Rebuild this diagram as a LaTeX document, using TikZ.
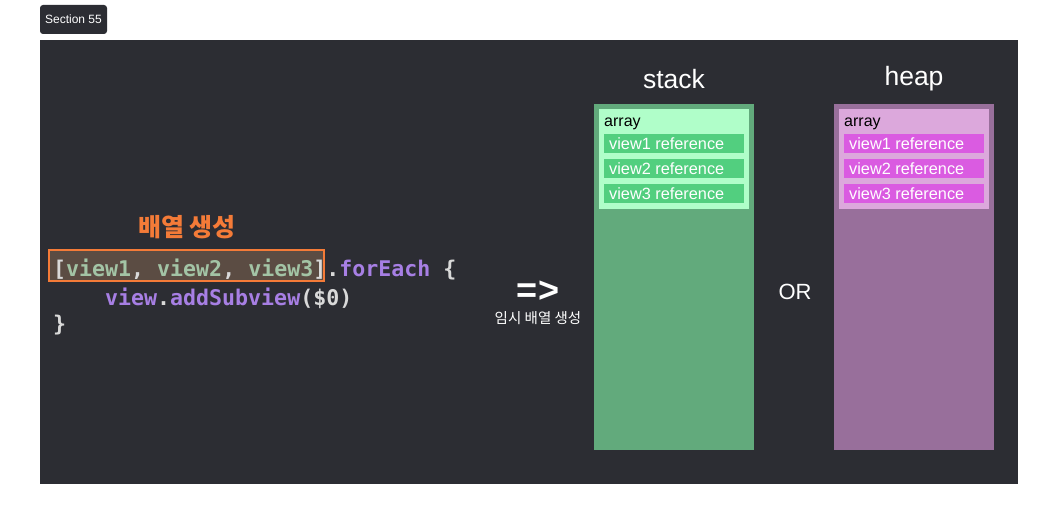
\documentclass[tikz,border=0pt]{standalone}
\usepackage{fontspec}
\setmainfont{Liberation Sans}
\newfontfamily\kr{Noto Sans CJK KR}
\newfontfamily\codefont{DejaVu Sans Mono}
\definecolor{bgdark}{HTML}{2C2D33}
\definecolor{codegray}{HTML}{D9D9D9}
\definecolor{codegreen}{HTML}{A3C4A5}
\definecolor{codepurple}{HTML}{A77FE4}
\definecolor{hlorange}{HTML}{F47B38}
\definecolor{hlfill}{HTML}{5B4C43}
\definecolor{stackcol}{HTML}{62AA7C}
\definecolor{stackin}{HTML}{B0FEC9}
\definecolor{stackrow}{HTML}{52CF7F}
\definecolor{heapcol}{HTML}{986F9B}
\definecolor{heapin}{HTML}{DCA8DC}
\definecolor{heaprow}{HTML}{DA5BE1}
\tikzset{
  codeline/.style={anchor=base west, inner sep=0pt, font=\codefont\bfseries\fontsize{21.6}{24}\selectfont, text=codegray},
  title/.style={text=white, font=\fontsize{26.5}{30}\selectfont, inner sep=0pt},
  arrlabel/.style={anchor=base west, inner sep=0pt, text=black, font=\fontsize{16}{18}\selectfont},
  rowtext/.style={anchor=west, inner sep=0pt, text=white, font=\fontsize{16.3}{18}\selectfont},
}
\newcommand{\cg}[1]{\textcolor{codegreen}{#1}}
\newcommand{\cp}[1]{\textcolor{codepurple}{#1}}
\begin{document}
\begin{tikzpicture}[x=1pt,y=-1pt]
\useasboundingbox (0,0) rectangle (1058,524);
\fill[white] (0,0) rectangle (1058,524);
% section tag
\fill[bgdark, rounded corners=3pt] (40,5) rectangle (107,34);
\node[text=white, font=\fontsize{12}{14}\selectfont, inner sep=0pt] (sec) at (73.5,19.5) {Section 55};
% panel
\fill[bgdark] (40,40) rectangle (1018,484);
% code
\node[inner sep=0pt, text=hlorange, font=\kr\bfseries\fontsize{25}{29}\selectfont] (title) at (187,227) {배열 생성};
\draw[hlorange, line width=2pt, fill=hlfill] (49,250) rectangle (324,281);
\node[codeline] (l1) at (53,276) {[\cg{view1}, \cg{view2}, \cg{view3}].\cp{forEach} \{};
\node[codeline] (l2) at (105,305) {\cp{view}.\cp{addSubview}(\$0)};
\node[codeline] (l3) at (53,331) {\}};
% arrow
\node[text=white, inner sep=0pt, font=\bfseries\fontsize{36}{40}\selectfont] (arr) at (538,292) {=>};
\node[text=white, inner sep=0pt, font=\kr\fontsize{14.5}{17}\selectfont] (tmp) at (538,318) {임시 배열 생성};
\node[text=white, inner sep=0pt, font=\fontsize{22}{26}\selectfont] (or) at (795,292) {OR};
% stack
\node[title] (stk) at (674,79) {stack};
\fill[stackcol] (594,104) rectangle (754,450);
\fill[stackin] (599,109) rectangle (749,209);
\node[arrlabel] (sa) at (604,127) {array};
\fill[stackrow] (604,134) rectangle (744,153);
\fill[stackrow] (604,159) rectangle (744,178);
\fill[stackrow] (604,184) rectangle (744,203);
\node[rowtext] (s1) at (609,143.5) {view1 reference};
\node[rowtext] (s2) at (609,168.5) {view2 reference};
\node[rowtext] (s3) at (609,193.5) {view3 reference};
% heap
\node[title] (hp) at (914,79) {heap};
\fill[heapcol] (834,104) rectangle (994,450);
\fill[heapin] (839,109) rectangle (989,209);
\node[arrlabel] (ha) at (844,127) {array};
\fill[heaprow] (844,134) rectangle (984,153);
\fill[heaprow] (844,159) rectangle (984,178);
\fill[heaprow] (844,184) rectangle (984,203);
\node[rowtext] (h1) at (849,143.5) {view1 reference};
\node[rowtext] (h2) at (849,168.5) {view2 reference};
\node[rowtext] (h3) at (849,193.5) {view3 reference};
\end{tikzpicture}
\end{document}
